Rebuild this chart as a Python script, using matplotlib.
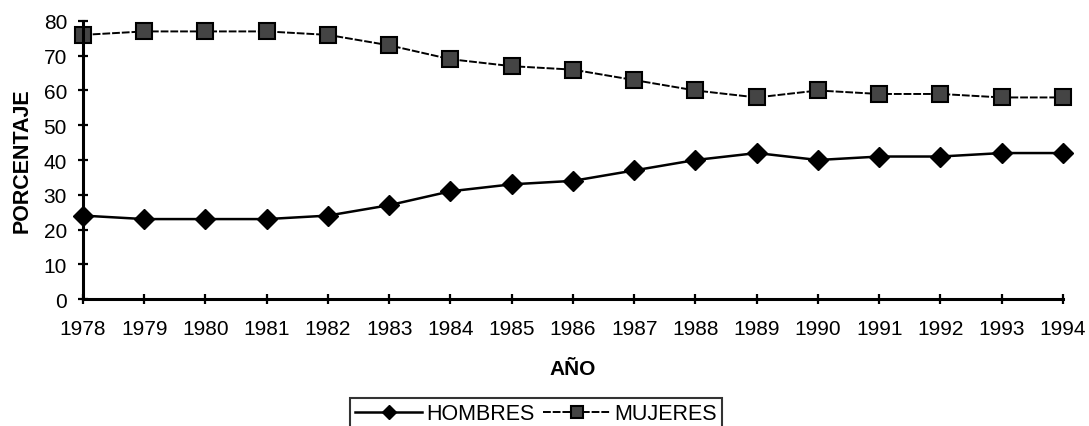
import numpy as np
import matplotlib.pyplot as plt

plt.rcParams['font.family'] = ['Liberation Sans', 'DejaVu Sans']

years = list(range(1978, 1995))
hombres = [24, 23, 23, 23, 24, 27, 31, 33, 34, 37, 40, 42, 40, 41, 41, 42, 42]
mujeres = [76, 77, 77, 77, 76, 73, 69, 67, 66, 63, 60, 58, 60, 59, 59, 58, 58]

fig = plt.figure(figsize=(10.89, 4.27), dpi=100)
ax = fig.add_axes([0.0762, 0.2974, 0.8999, 0.6511])

ax.plot(years, hombres, color='black', lw=1.8, marker='D', markersize=10,
        markerfacecolor='black', markeredgecolor='black', clip_on=False, label='HOMBRES')
ax.plot(years, mujeres, color='black', lw=1.4, ls=(0, (4, 1)), marker='s', markersize=12,
        markerfacecolor='#444444', markeredgecolor='black', markeredgewidth=1.5,
        clip_on=False, label='MUJERES')

ax.set_xlim(1978, 1994)
ax.set_ylim(0, 80)
ax.set_xticks(years)
ax.set_yticks(range(0, 81, 10))
ax.tick_params(direction='inout', length=7, width=1.6, labelsize=15)
ax.tick_params(axis='x', pad=11)
ax.tick_params(axis='y', pad=8)
for s in ['top', 'right']:
    ax.spines[s].set_visible(False)
for s in ['left', 'bottom']:
    ax.spines[s].set_linewidth(2.2)

ax.set_xlabel('AÑO', fontweight='bold', fontsize=15, labelpad=15)
ax.set_ylabel('PORCENTAJE', fontweight='bold', fontsize=15.5, labelpad=8)

leg = fig.legend(loc='upper center', bbox_to_anchor=(536 / 1089, 1 - 388 / 427), ncol=2,
                 fontsize=15.5, frameon=True, fancybox=False, edgecolor='black',
                 handlelength=3.1, columnspacing=0.4, handletextpad=0.2, borderpad=0.25,
                 markerscale=0.75)
leg.get_frame().set_linewidth(1.5)

fig.savefig('out.png', dpi=100)
